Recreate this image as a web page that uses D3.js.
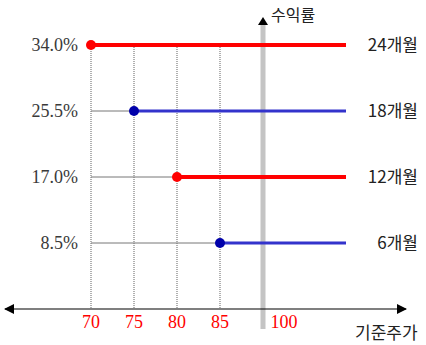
<!DOCTYPE html>
<html><head><meta charset="utf-8">
<script src="https://cdn.jsdelivr.net/npm/d3@7"></script>
<style>body{margin:0;background:#fff}svg{display:block}</style>
</head><body>
<script>
const xTicks = ["70","75","80","85","100"];
const rates = [34.0, 25.5, 17.0, 8.5];
const periods = ["24개월","18개월","12개월","6개월"];
const strikes = ["70","75","80","85"];
const seriesColor = ["red","blue","red","blue"];

const W=426,H=345;
const svg=d3.select("body").append("svg").attr("width",W).attr("height",H);
const x=d3.scalePoint().domain(xTicks).range([91,263]);
const y=d3.scaleLinear().domain([0,34]).range([309,45]);
const lineEnd=346;
const col={red:"#ff0000",blue:"#3333cc"};
const dotCol={red:"#ff0000",blue:"#0000aa"};

const defs=svg.append("defs");
defs.append("marker").attr("id","arr").attr("viewBox","0 0 10 10").attr("refX",9).attr("refY",5)
   .attr("markerWidth",10).attr("markerHeight",10).attr("markerUnits","userSpaceOnUse").attr("orient","auto")
   .append("path").attr("d","M0,0L10,5L0,10Z").attr("fill","#000");

// dotted verticals
svg.selectAll(".vd").data(strikes).join("line")
  .attr("x1",d=>x(d)).attr("x2",d=>x(d)).attr("y1",y(34)).attr("y2",y(0))
  .attr("stroke","#b0b0b0").attr("stroke-width",2).attr("stroke-dasharray","1,1");

// gray axis at 100
svg.append("line").attr("x1",x("100")).attr("x2",x("100")).attr("y1",329).attr("y2",24)
  .attr("stroke","#c4c4c4").attr("stroke-width",5);
svg.append("path").attr("d",`M${x("100")-5},25L${x("100")},17L${x("100")+5},25Z`).attr("fill","#000");
svg.append("text").attr("x",271).attr("y",15).attr("dy","0.35em").attr("font-family","Noto Sans CJK KR").attr("font-size",16)
  .attr("fill","#222").text("수익률");

// x axis
svg.append("line").attr("x1",x(xTicks[0])).attr("x2",406).attr("y1",y(0)).attr("y2",y(0))
  .attr("stroke","#000").attr("stroke-width",1.2).attr("marker-end","url(#arr)");
svg.append("line").attr("x1",x(xTicks[0])).attr("x2",5).attr("y1",y(0)).attr("y2",y(0))
  .attr("stroke","#000").attr("stroke-width",1.2).attr("marker-end","url(#arr)");

// thin gray connector lines
svg.selectAll(".gl").data(rates).join("line")
  .attr("x1",x(xTicks[0])).attr("x2",(d,i)=>x(strikes[i])).attr("y1",d=>y(d)).attr("y2",d=>y(d))
  .attr("stroke","#777").attr("stroke-width",1);

// series lines
svg.selectAll(".sl").data(rates).join("line")
  .attr("x1",(d,i)=>x(strikes[i])).attr("x2",lineEnd).attr("y1",d=>y(d)).attr("y2",d=>y(d))
  .attr("stroke",(d,i)=>col[seriesColor[i]]).attr("stroke-width",(d,i)=>seriesColor[i]==="red"?4:3);
svg.selectAll(".dt").data(rates).join("circle")
  .attr("cx",(d,i)=>x(strikes[i])).attr("cy",d=>y(d)).attr("r",5)
  .attr("fill",(d,i)=>dotCol[seriesColor[i]]);

// left labels
svg.selectAll(".ll").data(rates).join("text")
  .attr("x",78).attr("y",d=>y(d)).attr("dy","0.35em").attr("text-anchor","end")
  .attr("font-family","Liberation Serif").attr("font-size",18).attr("fill","#3a3a3a")
  .text(d=>d.toFixed(1)+"%");

// right labels
svg.selectAll(".rl").data(rates).join("text")
  .attr("x",418).attr("y",d=>y(d)).attr("dy","0.35em").attr("text-anchor","end")
  .attr("font-family","Noto Sans CJK KR").attr("font-size",17).attr("fill","#222")
  .text((d,i)=>periods[i]);

// x tick labels
svg.selectAll(".xl").data(xTicks).join("text")
  .attr("x",d=>d==="100"?x(d)+21:x(d)).attr("y",322).attr("dy","0.35em").attr("text-anchor","middle")
  .attr("font-family","Liberation Serif").attr("font-size",18).attr("fill","#ff0000")
  .text(d=>d);
svg.append("text").attr("x",355).attr("y",333).attr("dy","0.35em")
  .attr("font-family","Noto Sans CJK KR").attr("font-size",17).attr("fill","#222").text("기준주가");
</script>
</body></html>
